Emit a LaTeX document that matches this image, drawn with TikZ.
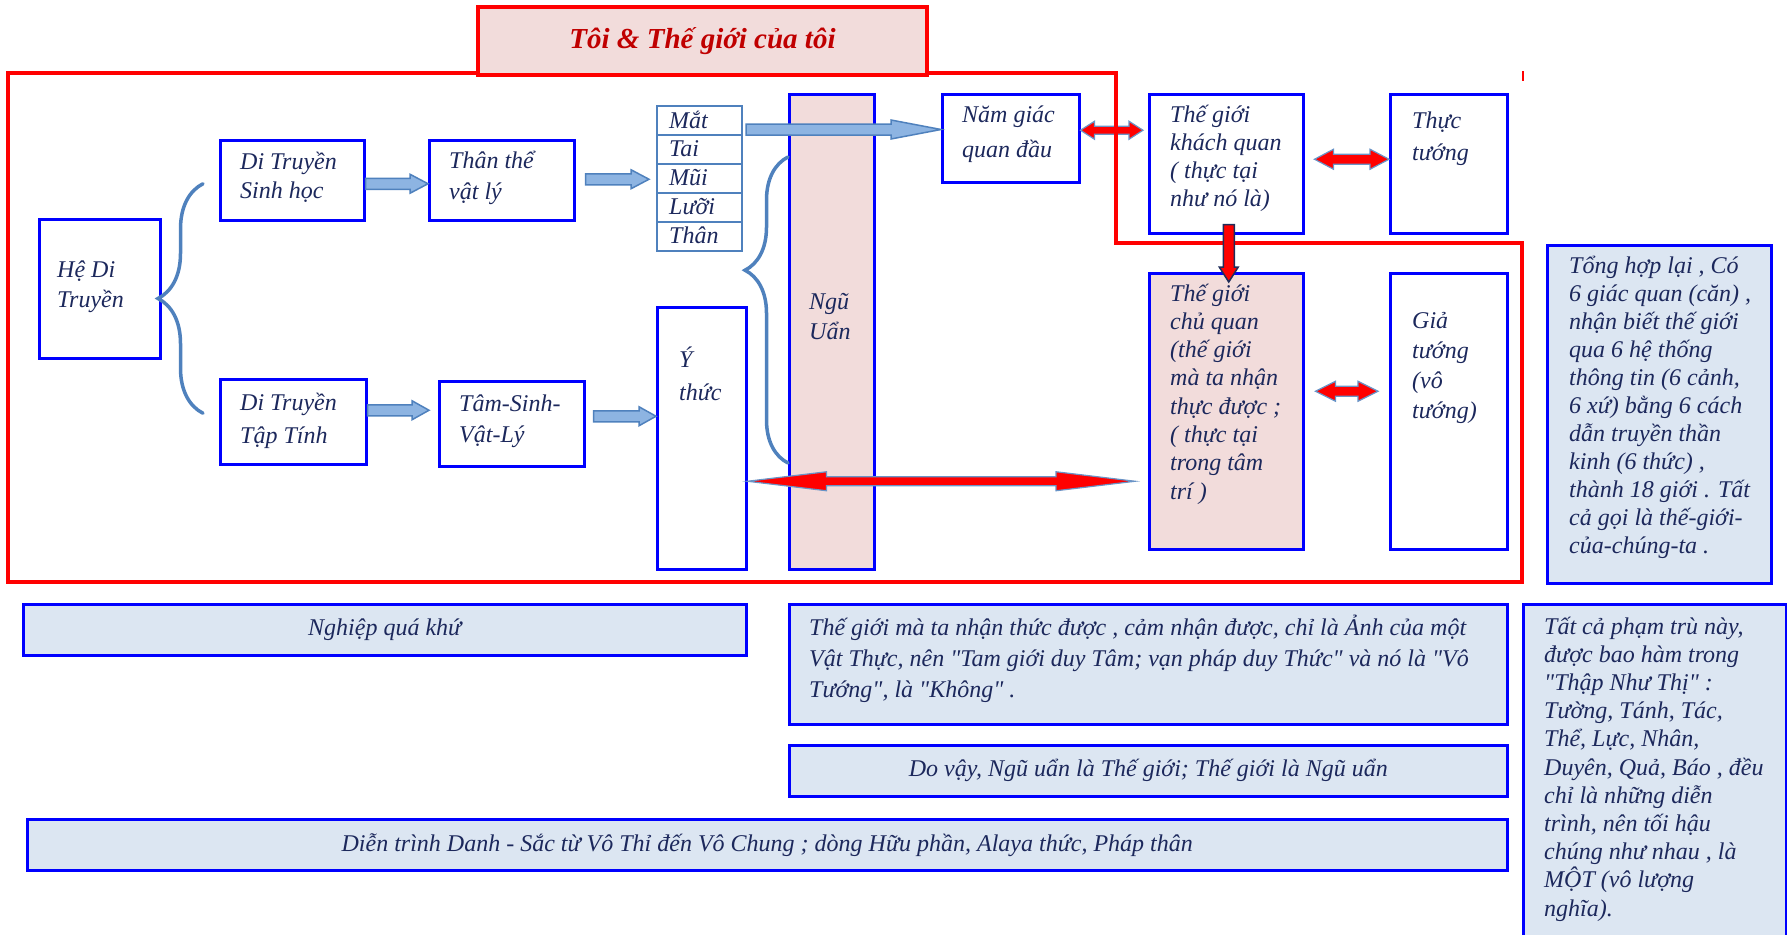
\documentclass[tikz,border=0pt]{standalone}
\usepackage{fontspec}
\setmainfont{Liberation Serif}
\usetikzlibrary{calc,decorations.pathreplacing}

\definecolor{boxblue}{RGB}{0,0,255}
\definecolor{steel}{RGB}{79,129,189}
\definecolor{arrowfill}{RGB}{141,180,226}
\definecolor{pinkfill}{RGB}{242,220,219}
\definecolor{notefill}{RGB}{220,230,242}
\definecolor{ink}{RGB}{28,40,92}
\definecolor{titlered}{RGB}{192,0,0}
\definecolor{navy}{RGB}{31,45,90}

\newcommand{\blockarrow}[6]{\path[#1] let \p1=#2, \p2=#3 in
  (\x1,\y1+#4) -- (\x2-#6,\y1+#4) -- (\x2-#6,\y1+#5) -- (\x2,\y1)
  -- (\x2-#6,\y1-#5) -- (\x2-#6,\y1-#4) -- (\x1,\y1-#4) -- cycle;}
\newcommand{\twoarrow}[6]{\path[#1] let \p1=#2, \p2=#3 in
  (\x1,\y1) -- (\x1+#6,\y1+#5) -- (\x1+#6,\y1+#4) -- (\x2-#6,\y1+#4) -- (\x2-#6,\y1+#5) -- (\x2,\y1)
  -- (\x2-#6,\y1-#5) -- (\x2-#6,\y1-#4) -- (\x1+#6,\y1-#4) -- (\x1+#6,\y1-#5) -- cycle;}
\newcommand{\qq}{\textquotedbl}

\begin{document}
\begin{tikzpicture}[x=1pt,y=-1pt,
	block/.style={draw=boxblue,line width=2.5pt,anchor=north west,inner sep=0pt},
	pinkblock/.style={block,fill=pinkfill},
	noteblock/.style={block,fill=notefill,text=ink,font=\fontsize{24}{29}\selectfont\itshape},
	sense/.style={draw=steel,line width=2pt,anchor=north west,minimum width=85pt,minimum height=29pt,inner sep=0pt},
	txt/.style={anchor=west,align=left,inner sep=0pt,text=ink,font=\fontsize{24}{#1}\selectfont\itshape},
	txt/.default=29,
	bluearrow/.style={fill=arrowfill,draw=steel,line width=1.5pt,line join=miter},
	redarrow/.style={fill=red,draw=steel!85,line width=1.2pt},
	curly/.style={decorate,decoration={brace,amplitude=#1},draw=steel,line width=3.5pt,line cap=round}]
\useasboundingbox (0,0) rectangle (1787,934);
\clip (0,0) rectangle (1787,934);

\node (hedi) at (38,218) [block,minimum width=121pt,minimum height=139pt] {};
\node (sinhhoc) at (219,139) [block,minimum width=144pt,minimum height=80pt] {};
\node (thanthe) at (428,139) [block,minimum width=145pt,minimum height=80pt] {};
\node (taptinh) at (219,378) [block,minimum width=146pt,minimum height=85pt] {};
\node (tamsinh) at (438,380) [block,minimum width=145pt,minimum height=85pt] {};
\node (mat) at (656,105) [sense] {};
\node (tai) at (656,134) [sense] {};
\node (mui) at (656,163) [sense] {};
\node (luoi) at (656,192) [sense] {};
\node (than) at (656,221) [sense] {};
\node (nguuan) at (788,93) [pinkblock,minimum width=85pt,minimum height=475pt] {};
\node (ythuc) at (656,306) [block,minimum width=89pt,minimum height=262pt] {};
\node (namgiac) at (941,93) [block,minimum width=137pt,minimum height=88pt] {};
\node (khachquan) at (1148,93) [block,minimum width=154pt,minimum height=139pt] {};
\node (thuctuong) at (1389,93) [block,minimum width=117pt,minimum height=139pt] {};
\node (chuquan) at (1148,272) [pinkblock,minimum width=154pt,minimum height=276pt] {};
\node (giatuong) at (1389,272) [block,minimum width=117pt,minimum height=276pt] {};
\node (tonghop) at (1546,244) [noteblock,minimum width=224pt,minimum height=338pt] {};
\node (nghiep) at (22,603) [noteblock,minimum width=723pt,minimum height=51pt] {Nghiệp quá khứ};
\node (thegioi) at (788,603) [noteblock,minimum width=718pt,minimum height=120pt] {};
\node (dovay) at (788,744) [noteblock,minimum width=718pt,minimum height=51pt] {Do vậy, Ngũ uẩn là Thế giới; Thế giới là Ngũ uẩn};
\node (dientrinh) at (26,818) [noteblock,minimum width=1480pt,minimum height=51pt] {Diễn trình Danh - Sắc từ Vô Thỉ đến Vô Chung ; dòng Hữu phần, Alaya thức, Pháp thân};
\node (tatca) at (1522,603) [noteblock,minimum width=263pt,minimum height=345pt] {};

\node (hedi-t) at (57,287) [txt=30] {Hệ Di\\Truyền};
\node (sinhhoc-t) at (240,177.5) [txt] {Di Truyền\\Sinh học};
\node (thanthe-t) at (449,177.5) [txt=31] {Thân thể\\vật lý};
\node (mat-t) at (669,119.5) [txt] {Mắt};
\node (tai-t) at (669,148.5) [txt] {Tai};
\node (mui-t) at (669,177.5) [txt] {Mũi};
\node (luoi-t) at (669,206.5) [txt] {Lưỡi};
\node (than-t) at (669,235.5) [txt] {Thân};
\node (taptinh-t) at (240,420.5) [txt=33] {Di Truyền\\Tập Tính};
\node (tamsinh-t) at (459,421.5) [txt=31] {Tâm-Sinh-\\Vật-Lý};
\node (ythuc-t) at (679,373.5) [txt=33] {Ý\\thức};
\node (nguuan-t) at (809,317) [txt=30] {Ngũ\\Uẩn};
\node (namgiac-t) at (962,134.5) [txt=35] {Năm giác\\quan đầu};
\node (khachquan-t) at (1170,158.5) [txt=28] {Thế giới\\khách quan\\( thực tại\\như nó là)};
\node (thuctuong-t) at (1412,139) [txt=32] {Thực\\tướng};
\node (chuquan-t) at (1170,394) [txt=28.3] {Thế giới\\chủ quan\\(thế giới\\mà ta nhận\\thực được ;\\( thực tại\\trong tâm\\trí )};
\node (giatuong-t) at (1412,368) [txt=30] {Giả\\tướng\\(vô\\tướng)};
\node (tonghop-t) at (1569,407) [txt=28] {Tổng hợp lại , Có\\6 giác quan (căn) ,\\nhận biết thế giới\\qua 6 hệ thống\\thông tin (6 cảnh,\\6 xứ) bằng 6 cách\\dẫn truyền thần\\kinh (6 thức) ,\\thành 18 giới . Tất\\cả gọi là thế-giới-\\của-chúng-ta .};
\node (thegioi-t) at (809,659) [txt=31] {Thế giới mà ta nhận thức được , cảm nhận được, chỉ là Ảnh của một\\Vật Thực, nên \qq Tam giới duy Tâm; vạn pháp duy Thức\qq{} và nó là \qq Vô\\Tướng\qq, là \qq Không\qq{} .};
\node (tatca-t) at (1544,769) [txt=28.2] {Tất cả phạm trù này,\\được bao hàm trong\\\qq Thập Như Thị\qq{} :\\Tường, Tánh, Tác,\\Thể, Lực, Nhân,\\Duyên, Quả, Báo , đều\\chỉ là những diễn\\trình, nên tối hậu\\chúng như nhau , là\\MỘT (vô lượng\\nghĩa).};

\twoarrow{redarrow}{([yshift=8pt]namgiac.east)}{([xshift=-5pt]khachquan.west)}{4pt}{9pt}{14pt}

\draw[red,line width=4pt] (8,73) -- (1116,73) -- (1116,243) -- (1522,243) -- (1522,582) -- (8,582) -- cycle;
\draw[red,line width=1.5pt] (1523,71) -- (1523,81);
\node (title) at (476,5) [draw=red,line width=4pt,fill=pinkfill,anchor=north west,minimum width=449pt,minimum height=68pt,inner sep=0pt,text=titlered,font=\fontsize{29}{34}\selectfont\bfseries\itshape] {Tôi \& Thế giới của tôi};

\draw[curly=45pt] ([xshift=-16pt,yshift=8.5pt]taptinh.west) -- ([xshift=-16pt,yshift=-3.5pt]sinhhoc.west);
\coordinate (b2bot) at (788,463);
\coordinate (b2top) at (788,157);
\draw[curly=43pt,decoration={aspect=0.63}] (b2bot) -- (b2top);

\blockarrow{bluearrow}{([yshift=-3.5pt]sinhhoc.east)}{(thanthe.west)}{5.5pt}{9.5pt}{18pt}
\blockarrow{bluearrow}{([xshift=10pt,yshift=1pt]thanthe.east)}{([xshift=-7pt]mui.west)}{5.5pt}{9.5pt}{18pt}
\blockarrow{bluearrow}{([yshift=11.5pt]taptinh.east)}{([xshift=-9pt]tamsinh.west)}{5.5pt}{9.5pt}{17pt}
\blockarrow{bluearrow}{([xshift=8pt,yshift=7.5pt]tamsinh.east)}{(ythuc.west)}{5.5pt}{9.5pt}{17pt}
\blockarrow{bluearrow}{([xshift=3pt,yshift=-9pt]mat.east)}{(namgiac.west)}{5.5pt}{9.5pt}{50pt}

\twoarrow{redarrow}{([xshift=10pt,yshift=4.5pt]khachquan.east)}{(thuctuong.west)}{5pt}{10pt}{19pt}
\twoarrow{redarrow}{([xshift=11pt,yshift=20pt]chuquan.east)}{([xshift=-11pt]giatuong.west)}{5pt}{10pt}{20pt}
\coordinate (rtip) at (1135,480);
\twoarrow{redarrow}{([yshift=-43pt]ythuc.east)}{(rtip)}{4.5pt}{9.5pt}{79pt}

\path[fill=red,draw=navy,line width=1.5pt] let \p1=([xshift=2.5pt,yshift=10pt]khachquan.south), \p2=([xshift=2.5pt,yshift=-10pt]chuquan.north) in
  (\x1-5.5pt,\y1) -- (\x1-5.5pt,\y2+15pt) -- (\x1-9.5pt,\y2+15pt) -- (\x1,\y2) -- (\x1+9.5pt,\y2+15pt) -- (\x1+5.5pt,\y2+15pt) -- (\x1+5.5pt,\y1) -- cycle;
\end{tikzpicture}
\end{document}
